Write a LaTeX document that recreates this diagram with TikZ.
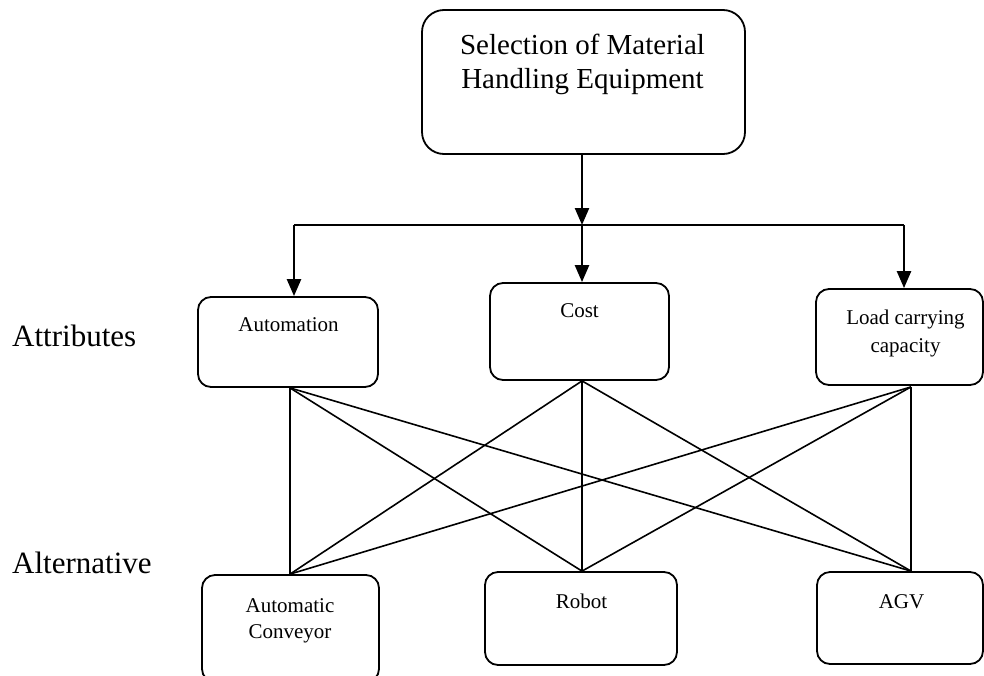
\documentclass[tikz,border=0pt]{standalone}
\usepackage{fontspec}
\setmainfont{Liberation Serif}
\usetikzlibrary{arrows.meta,calc}

\tikzset{
  box/.style={draw, line width=1.8pt, rounded corners=13pt, inner sep=0pt},
  bigbox/.style={box, rounded corners=22pt},
  txt/.style={anchor=base, inner sep=0pt, font=\fontsize{21}{25}\selectfont},
  bigtxt/.style={anchor=base, inner sep=0pt, font=\fontsize{29}{34}\selectfont},
  side/.style={anchor=base west, inner sep=0pt, font=\fontsize{31}{36}\selectfont},
  arr/.style={line width=2.4pt, -{Triangle[length=17pt,width=14pt]}},
  feed/.style={line width=2pt},
  link/.style={line width=1.6pt}
}

\begin{document}
\begin{tikzpicture}[x=1pt, y=-1pt]
  \useasboundingbox (0,0) rectangle (984,675);

  % goal
  \node[bigbox, minimum width=323pt, minimum height=144pt] (goal) at (583.5,82) {};
  \node[bigtxt] (g1) at (582.5,54) {Selection of Material};
  \node[bigtxt] (g2) at (582.5,88) {Handling Equipment};

  % attributes
  \node[box, minimum width=180pt, minimum height=90pt] (auto) at (288,342) {};
  \node[txt] (autot) at (288.5,331) {Automation};
  \node[box, minimum width=179pt, minimum height=97pt] (cost) at (579.5,331.5) {};
  \node[txt] (costt) at (579.5,317) {Cost};
  \node[box, minimum width=167pt, minimum height=96pt] (load) at (899.5,337) {};
  \node[txt] (loadt1) at (905.5,324) {Load carrying};
  \node[txt] (loadt2) at (905.5,352) {capacity};

  % alternatives
  \node[box, minimum width=177pt, minimum height=107pt] (conv) at (290.5,628.5) {};
  \node[txt] (convt1) at (290,612) {Automatic};
  \node[txt] (convt2) at (290,638) {Conveyor};
  \node[box, minimum width=192pt, minimum height=93pt] (robot) at (581,618.5) {};
  \node[txt] (robott) at (581.5,608) {Robot};
  \node[box, minimum width=166pt, minimum height=92pt] (agv) at (900,618) {};
  \node[txt] (agvt) at (901.5,608) {AGV};

  % level labels
  \node[side] (attr) at (12,346) {Attributes};
  \node[side] (alt) at (12,573) {Alternative};

  % goal to attributes
  \coordinate (j) at (582,225);
  \coordinate (jl) at (294,225);
  \coordinate (jr) at (904,225);
  \draw[arr] (goal.south -| j) -- (j);
  \draw[feed] (jl) -- (jr);
  \draw[arr] (j) -- (j |- cost.north);
  \draw[arr] (jl) -- (jl |- auto.north);
  \draw[arr] (jr) -- (jr |- load.north);

  % attachment points
  \coordinate (a1) at ($(auto.south)+(2,0)$);
  \coordinate (a2) at ($(cost.south)+(2.5,0)$);
  \coordinate (a3) at ($(load.south)+(11.5,1)$);
  \coordinate (b1) at ($(conv.north)+(-0.5,0)$);
  \coordinate (b2) at ($(robot.north)+(1,0)$);
  \coordinate (b3) at ($(agv.north)+(11,0)$);

  % every attribute to every alternative
  \foreach \a in {a1,a2,a3}
    \foreach \b in {b1,b2,b3}
      \draw[link] (\a) -- (\b);
\end{tikzpicture}
\end{document}
